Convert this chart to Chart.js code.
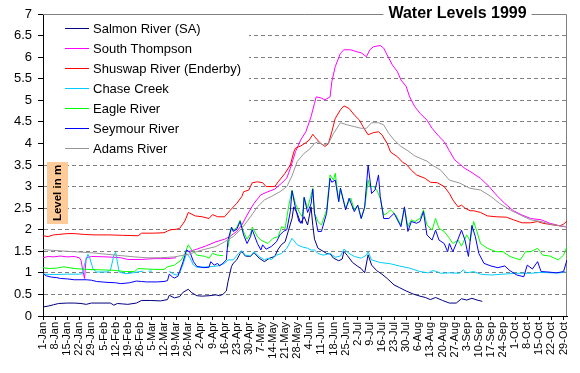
<!DOCTYPE html>
<html>
<head>
<meta charset="utf-8">
<title>Water Levels 1999</title>
<script src="https://cdn.jsdelivr.net/npm/chart.js@4.4.1/dist/chart.umd.min.js"></script>
<style>
    html, body { margin: 0; padding: 0; background: #fff; }
    #wrap { position: relative; width: 580px; height: 373px; }
</style>
</head>
<body>
<div id="wrap"><canvas id="levels"></canvas></div>
<script>
// day of year (0 = 1-Jan) and level in m
const salmonRiver = [[0,0.21],[3,0.23],[6,0.26],[9,0.29],[14,0.30],[18,0.30],[22,0.29],[25,0.27],[28,0.30],[33,0.30],[39,0.30],[41,0.25],[43,0.29],[46,0.28],[49,0.27],[54,0.30],[57,0.36],[62,0.36],[68,0.35],[72,0.38],[73,0.48],[76,0.42],[79,0.45],[81,0.55],[84,0.62],[86,0.54],[89,0.47],[92,0.46],[96,0.47],[100,0.49],[102,0.47],[104,0.50],[106,0.58],[107,0.80],[109,1.15],[110,1.22],[112,1.30],[114,1.45],[115,1.49],[117,1.39],[120,1.38],[122,1.47],[125,1.34],[128,1.26],[131,1.34],[134,1.38],[136,1.55],[138,1.66],[140,1.72],[142,1.99],[144,2.26],[145,2.53],[147,2.38],[149,2.15],[151,2.30],[153,2.11],[155,2.53],[156,2.10],[157,1.78],[159,1.57],[162,1.50],[164,1.45],[166,1.44],[168,1.34],[171,1.28],[173,1.32],[174,1.50],[176,1.40],[179,1.24],[182,1.15],[184,1.10],[186,1.00],[188,1.42],[190,1.18],[193,1.05],[196,0.97],[199,0.87],[203,0.72],[206,0.66],[210,0.58],[214,0.51],[218,0.46],[221,0.43],[224,0.38],[227,0.43],[231,0.36],[235,0.30],[239,0.30],[242,0.40],[245,0.37],[248,0.41],[251,0.37],[254,0.34]];
const southThompson = [[0,1.35],[3,1.38],[6,1.37],[10,1.39],[14,1.37],[18,1.38],[21,1.35],[22,1.29],[23,1.06],[24,0.87],[25,1.35],[28,1.38],[37,1.37],[45,1.35],[49,1.31],[57,1.31],[64,1.33],[72,1.33],[77,1.35],[78,null],[84,1.49],[89,1.55],[94,1.62],[100,1.72],[105,1.78],[108,1.84],[112,1.96],[115,2.11],[118,2.34],[122,2.61],[126,2.81],[130,2.88],[134,2.94],[138,3.08],[141,3.20],[143,3.42],[146,3.81],[149,4.08],[152,4.27],[155,4.62],[157,4.93],[158,5.08],[161,5.05],[163,5.01],[166,5.08],[167,5.43],[169,5.78],[172,6.09],[174,6.17],[178,6.17],[181,6.13],[184,6.10],[187,6.01],[189,6.17],[191,6.24],[195,6.27],[197,6.21],[199,6.05],[202,5.82],[205,5.66],[207,5.47],[210,5.32],[212,5.08],[215,4.85],[218,4.70],[222,4.54],[225,4.35],[229,4.16],[232,4.04],[235,3.83],[238,3.62],[241,3.52],[244,3.42],[247,3.35],[253,3.19],[258,3.00],[262,2.81],[267,2.61],[272,2.44],[277,2.34],[282,2.26],[288,2.23],[293,2.15],[299,2.09],[303,2.06]];
const shuswapRiver = [[0,1.86],[3,1.84],[6,1.88],[9,1.89],[14,1.91],[18,1.91],[24,1.89],[30,1.88],[38,1.88],[46,1.87],[55,1.86],[57,1.92],[64,1.92],[70,1.93],[72,1.97],[74,2.00],[77,2.01],[79,2.03],[82,2.20],[84,2.40],[88,2.32],[92,2.30],[96,2.26],[98,2.35],[101,2.30],[105,2.30],[108,2.44],[112,2.61],[115,2.77],[116,2.88],[119,2.92],[121,3.09],[124,3.11],[127,3.09],[129,3.00],[134,3.00],[136,3.11],[140,3.31],[143,3.50],[145,3.80],[146,3.89],[149,3.94],[152,4.02],[154,4.08],[156,4.21],[157,4.16],[160,4.02],[163,3.93],[165,3.99],[167,4.27],[169,4.58],[172,4.78],[174,4.87],[177,4.81],[180,4.66],[183,4.54],[185,4.39],[188,4.20],[191,4.25],[194,4.27],[196,4.20],[199,4.00],[201,3.80],[205,3.69],[208,3.56],[210,3.52],[213,3.38],[216,3.27],[221,3.19],[224,3.10],[228,3.09],[232,3.00],[235,2.84],[237,2.69],[240,2.53],[242,2.57],[244,2.50],[247,2.44],[249,2.44],[253,2.40],[257,2.32],[262,2.30],[268,2.29],[272,2.23],[277,2.16],[282,2.16],[286,2.19],[289,2.15],[295,2.11],[299,2.09],[301,2.13],[303,2.20]];
const chaseCreek = [[0,0.97],[6,0.96],[14,0.97],[21,0.97],[23,0.98],[24,1.20],[26,1.43],[27,1.35],[29,1.08],[31,1.02],[37,1.02],[39,1.06],[41,1.41],[42,1.48],[43,1.25],[44,1.02],[48,0.98],[52,1.00],[56,1.03],[58,1.04],[59,null],[61,1.04],[63,1.04],[64,null],[73,1.04],[75,0.98],[77,0.95],[79,1.00],[81,1.20],[83,1.45],[85,1.35],[87,1.18],[89,1.13],[96,1.14],[101,1.16],[105,1.22],[107,1.30],[110,1.30],[113,1.45],[115,1.51],[117,1.41],[120,1.39],[122,1.49],[125,1.38],[128,1.30],[130,1.34],[132,1.31],[135,1.41],[138,1.45],[141,1.57],[144,1.80],[147,1.65],[150,1.60],[153,1.57],[155,1.53],[157,1.53],[159,1.45],[162,1.41],[166,1.45],[169,1.36],[172,1.39],[174,1.55],[177,1.45],[180,1.38],[184,1.34],[187,1.41],[188,1.49],[190,1.30],[195,1.24],[201,1.21],[206,1.16],[212,1.11],[218,1.03],[223,1.00],[225,1.05],[227,1.04],[230,0.99],[235,1.00],[241,0.99],[243,1.07],[245,1.00],[249,1.03],[253,0.97],[259,0.95],[266,0.97],[274,0.99],[282,0.99],[288,1.01],[294,1.00],[299,1.00],[302,1.03]];
const eagleRiver = [[0,1.12],[3,1.10],[8,1.11],[12,1.14],[18,1.10],[26,1.08],[33,1.07],[41,1.06],[47,1.03],[53,1.03],[55,1.10],[64,1.08],[70,1.08],[72,1.14],[76,1.18],[80,1.30],[82,1.45],[84,1.65],[86,1.53],[89,1.41],[94,1.38],[96,1.34],[98,1.45],[101,1.41],[104,1.40],[105,null],[107,1.60],[109,2.06],[110,1.98],[112,2.05],[114,2.22],[116,1.95],[118,1.78],[120,1.90],[121,2.06],[124,1.84],[126,1.76],[130,1.68],[133,1.80],[136,1.84],[138,2.07],[140,2.03],[142,2.53],[144,2.92],[146,2.60],[148,2.42],[150,2.30],[151,2.75],[153,2.50],[156,2.96],[157,2.38],[159,2.19],[161,2.11],[164,2.46],[166,3.27],[168,3.15],[169,3.31],[171,2.65],[172,2.96],[175,2.50],[178,2.73],[180,2.46],[182,2.57],[184,2.26],[186,2.50],[188,3.15],[189,3.00],[191,3.00],[193,2.92],[195,2.73],[197,2.34],[199,2.38],[201,2.46],[204,2.34],[207,2.11],[209,2.50],[211,2.07],[213,2.23],[215,2.19],[218,2.26],[220,2.46],[222,2.11],[225,1.99],[227,2.26],[229,2.03],[232,1.96],[235,1.80],[237,1.68],[240,1.76],[242,1.62],[245,1.88],[247,1.74],[249,2.19],[251,1.95],[253,1.68],[257,1.57],[262,1.49],[266,1.49],[270,1.38],[276,1.30],[279,1.49],[282,1.49],[286,1.57],[289,1.41],[293,1.39],[298,1.30],[301,1.41],[303,1.61]];
const seymourRiver = [[0,0.98],[2,0.93],[5,0.90],[8,0.89],[10,0.87],[14,0.86],[18,0.84],[22,0.84],[25,0.84],[28,0.83],[31,0.80],[37,0.78],[42,0.77],[45,0.75],[50,0.77],[54,0.81],[57,0.80],[60,0.79],[66,0.79],[70,0.80],[72,0.82],[73,0.97],[75,0.90],[76,0.88],[78,0.92],[79,1.03],[81,1.26],[83,1.53],[85,1.48],[87,1.26],[89,1.15],[93,1.12],[96,1.13],[97,1.26],[99,1.18],[101,1.22],[102,1.16],[104,1.22],[106,1.30],[107,1.76],[109,2.06],[110,1.96],[112,2.01],[114,2.19],[116,1.88],[118,1.68],[120,1.84],[121,2.00],[124,1.68],[126,1.53],[127,1.65],[129,1.55],[132,1.61],[135,1.72],[137,1.88],[139,1.96],[141,2.00],[143,2.42],[144,2.90],[146,2.50],[148,2.19],[150,2.15],[151,2.75],[153,2.40],[155,2.60],[156,2.94],[157,2.38],[159,1.96],[161,1.96],[164,2.38],[166,3.19],[167,3.10],[169,3.15],[171,2.65],[172,2.96],[175,2.46],[177,2.73],[180,2.42],[182,2.57],[184,2.26],[186,2.53],[188,3.50],[190,2.84],[192,2.92],[194,3.27],[195,2.77],[197,2.26],[200,2.26],[203,2.38],[207,2.07],[209,2.53],[211,1.96],[213,2.19],[216,2.15],[218,2.19],[220,2.42],[222,1.88],[225,1.76],[227,1.99],[229,1.76],[232,1.68],[234,1.49],[235,1.68],[237,1.49],[239,1.68],[242,1.99],[244,1.76],[246,1.38],[248,2.10],[250,1.84],[252,1.45],[255,1.22],[259,1.16],[263,1.12],[267,1.16],[270,1.05],[274,0.95],[278,0.91],[280,1.18],[283,1.09],[286,1.26],[288,1.03],[292,1.02],[297,1.00],[301,1.03],[303,1.30]];
const adamsRiver = [[0,1.54],[6,1.52],[14,1.50],[22,1.48],[30,1.46],[37,1.43],[45,1.40],[53,1.37],[60,1.35],[68,1.35],[76,1.37],[84,1.43],[92,1.53],[100,1.61],[105,1.72],[110,1.84],[115,2.03],[120,2.30],[124,2.53],[128,2.69],[132,2.77],[137,2.88],[141,3.00],[144,3.25],[147,3.58],[151,3.77],[154,3.86],[157,4.00],[159,4.04],[162,3.96],[165,4.00],[168,4.23],[172,4.48],[176,4.43],[180,4.39],[184,4.35],[187,4.35],[190,4.48],[194,4.48],[197,4.43],[200,4.23],[203,4.08],[207,3.93],[211,3.83],[215,3.71],[219,3.64],[222,3.59],[225,3.50],[230,3.38],[235,3.15],[241,3.08],[247,2.96],[253,2.92],[259,2.77],[264,2.61],[270,2.46],[276,2.34],[282,2.23],[288,2.19],[293,2.13],[299,2.09],[303,2.07]];

const seriesNames = ['Salmon River (SA)', 'South Thompson', 'Shuswap River (Enderby)', 'Chase Creek', 'Eagle River', 'Seymour River', 'Adams River'];
const seriesData = [salmonRiver, southThompson, shuswapRiver, chaseCreek, eagleRiver, seymourRiver, adamsRiver];
const seriesColors = ['#000080', '#ff00ff', '#ff0000', '#00ccff', '#00ff00', '#0000ff', '#969696'];

const tickLabels = ['1-Jan', '8-Jan', '15-Jan', '22-Jan', '29-Jan', '5-Feb', '12-Feb', '19-Feb', '26-Feb',
    '5-Mar', '12-Mar', '19-Mar', '26-Mar', '2-Apr', '9-Apr', '16-Apr', '23-Apr', '30-Apr',
    '7-May', '14-May', '21-May', '28-May', '4-Jun', '11-Jun', '18-Jun', '25-Jun',
    '2-Jul', '9-Jul', '16-Jul', '23-Jul', '30-Jul', '6-Aug', '13-Aug', '20-Aug', '27-Aug',
    '3-Sep', '10-Sep', '17-Sep', '24-Sep', '1-Oct', '8-Oct', '15-Oct', '22-Oct', '29-Oct'];
const tickDays = tickLabels.map((_, i) => i * 7);

const chartTitle = 'Water Levels 1999';
const axisTitle = 'Level in m';
const FONT = '"Liberation Sans", Arial, sans-serif';

// gray frame on the top and right of the plot
const framePlugin = {
    id: 'frame',
    beforeDatasetsDraw(chart) {
        const { ctx, chartArea: a } = chart;
        ctx.save();
        ctx.strokeStyle = '#808080';
        ctx.lineWidth = 1;
        ctx.beginPath();
        ctx.moveTo(a.left, a.top + 0.5);
        ctx.lineTo(a.right - 0.5, a.top + 0.5);
        ctx.lineTo(a.right - 0.5, a.bottom);
        ctx.stroke();
        ctx.restore();
    }
};

// legend, axis title and chart title drawn inside the plot like the original
const overlayPlugin = {
    id: 'overlay',
    afterDraw(chart) {
        const { ctx, chartArea: a } = chart;
        ctx.save();

        ctx.fillStyle = '#fff';
        ctx.fillRect(a.left + 1, a.top + 1, 205, 144);
        ctx.font = '13px ' + FONT;
        ctx.textAlign = 'left';
        ctx.textBaseline = 'alphabetic';
        seriesNames.forEach((name, i) => {
            const y = Math.round(a.top + 13.7 + i * 20.1) + 0.5;
            ctx.strokeStyle = seriesColors[i];
            ctx.lineWidth = 1;
            ctx.beginPath();
            ctx.moveTo(a.left + 22, y);
            ctx.lineTo(a.left + 46, y);
            ctx.stroke();
            ctx.fillStyle = '#000';
            ctx.fillText(name, a.left + 50, y + 4.5);
        });

        ctx.fillStyle = '#ffcc99';
        ctx.fillRect(47, 162, 21, 62);
        ctx.save();
        ctx.translate(58, 193);
        ctx.rotate(-Math.PI / 2);
        ctx.fillStyle = '#000';
        ctx.font = 'bold 11.5px ' + FONT;
        ctx.textAlign = 'center';
        ctx.textBaseline = 'middle';
        ctx.fillText(axisTitle, 0, 0);
        ctx.restore();

        ctx.font = 'bold 16px ' + FONT;
        const w = ctx.measureText(chartTitle).width;
        ctx.fillStyle = '#fff';
        ctx.fillRect(457.5 - w / 2 - 5, 4, w + 10, 18);
        ctx.fillStyle = '#000';
        ctx.textAlign = 'center';
        ctx.textBaseline = 'middle';
        ctx.fillText(chartTitle, 457.5, 14);

        ctx.restore();
    }
};

const datasets = seriesData.map((points, i) => ({
    label: seriesNames[i],
    data: points,
    borderColor: seriesColors[i],
    backgroundColor: seriesColors[i],
    borderWidth: 1,
    pointRadius: 0,
    tension: 0,
    spanGaps: false,
    order: seriesData.length - 1 - i
}));

new Chart(document.getElementById('levels'), {
    type: 'line',
    data: { datasets: datasets },
    options: {
        responsive: true,
        maintainAspectRatio: false,
        animation: false,
        layout: { padding: { top: 14, right: 13, left: 0, bottom: 0 } },
        plugins: {
            legend: { display: false },
            title: { display: false },
            tooltip: { enabled: false }
        },
        scales: {
            x: {
                type: 'linear',
                min: 0,
                max: 303,
                afterBuildTicks: (scale) => {
                    scale.ticks = tickDays.map(v => ({ value: v }));
                },
                afterFit: (scale) => { scale.height = 57; },
                ticks: {
                    autoSkip: false,
                    maxRotation: 90,
                    minRotation: 90,
                    padding: 2,
                    color: '#000',
                    font: { family: FONT, size: 11 },
                    callback: (value, index) => tickLabels[index]
                },
                grid: { drawOnChartArea: false, tickLength: 4, tickColor: '#000' },
                border: { color: '#000' }
            },
            y: {
                min: 0,
                max: 7,
                afterFit: (scale) => { scale.width = 43; },
                ticks: {
                    stepSize: 0.5,
                    padding: 6,
                    color: '#000',
                    font: { family: FONT, size: 13 },
                    callback: (value) => String(value)
                },
                grid: {
                    color: (c) => (c.tick && (c.tick.value === 0 || c.tick.value === 7)) ? 'rgba(0,0,0,0)' : '#808080',
                    tickLength: 5,
                    tickColor: '#000'
                },
                border: { color: '#000', dash: [4, 3] }
            }
        }
    },
    plugins: [framePlugin, overlayPlugin]
});
</script>
</body>
</html>
